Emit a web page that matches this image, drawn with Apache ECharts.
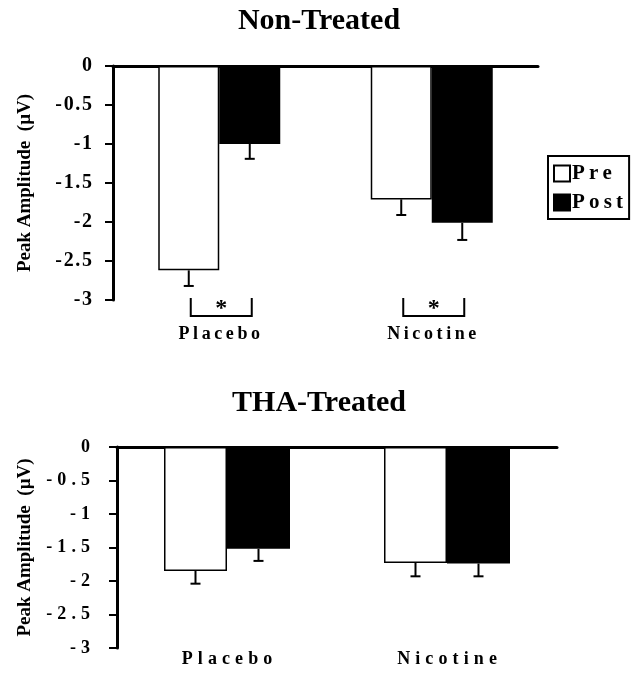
<!DOCTYPE html>
<html>
<head>
<meta charset="utf-8">
<script src="https://cdn.jsdelivr.net/npm/echarts@6/dist/echarts.min.js"></script>
<style>html,body{margin:0;padding:0;background:#fff}#c{width:638px;height:675px}</style>
</head>
<body>
<div id="c"></div>
<script>
// ---- data ----
const categories = ['Placebo', 'Nicotine'];
const seriesNames = ['Pre', 'Post'];
const titles = ['Non-Treated', 'THA-Treated'];
const yTicks = [0, -0.5, -1, -1.5, -2, -2.5, -3];
// Non-Treated
const ntPre = [-2.62, -1.71];
const ntPost = [-1.00, -2.01];
const ntPreErr = [0.20, 0.20];
const ntPostErr = [0.19, 0.22];
const ntSignificant = [1, 1];
// THA-Treated
const thaPre = [-1.85, -1.73];
const thaPost = [-1.52, -1.74];
const thaPreErr = [0.19, 0.20];
const thaPostErr = [0.18, 0.19];

const FONT = '"Liberation Serif", "DejaVu Serif", serif';
const spaced = (s, sep) => String(s).split('').join(sep);
const chart = echarts.init(document.getElementById('c'));

const grids = [
  {left: 113, top: 66, width: 425, height: 234, barW: 61, sep: '\u2009', tickSep: '\u200a', tickSize: 20, labelMargin: 25, yMargin: 21, nameGap: 78},
  {left: 117, top: 447, width: 440, height: 201, barW: 63, sep: '\u2009\u200a', tickSep: '\u2009\u200a', tickSize: 18, labelMargin: 2, yMargin: 27, nameGap: 82}
];

function errSeries(gi, values, errs, sign, name) {
  const bw = grids[gi].barW;
  return {
    type: 'custom', name: name + '_err', xAxisIndex: gi * 2, yAxisIndex: gi, z: 5,
    silent: true, clip: false,
    data: values.map((v, i) => [i, v, v - errs[i]]),
    renderItem: function (params, api) {
      const a = api.coord([api.value(0), api.value(1)]);
      const b = api.coord([api.value(0), api.value(2)]);
      const x = a[0] + sign * bw / 2;
      return {
        type: 'group', children: [
          {type: 'line', shape: {x1: x, y1: a[1], x2: x, y2: b[1]}, style: {stroke: '#000', lineWidth: 2}},
          {type: 'line', shape: {x1: x - 5, y1: b[1], x2: x + 5, y2: b[1]}, style: {stroke: '#000', lineWidth: 2}}
        ]
      };
    }
  };
}

function barSeries(gi, name, values, color) {
  return {
    type: 'bar', name: name, xAxisIndex: gi * 2, yAxisIndex: gi,
    data: values, barWidth: grids[gi].barW, barGap: '0%',
    itemStyle: {color: color, borderColor: '#000', borderWidth: 1.5},
    emphasis: {disabled: true}
  };
}

const bracketSeries = {
  type: 'custom', xAxisIndex: 0, yAxisIndex: 0, silent: true, clip: false, z: 5,
  data: ntSignificant.map((s, i) => [i, s]).filter(d => d[1]),
  renderItem: function (params, api) {
    const bw = grids[0].barW;
    const base = api.coord([api.value(0), -3]);
    const x1 = base[0] - bw / 2 + 2, x2 = base[0] + bw / 2 + 2;
    const yT = base[1] - 2, yB = base[1] + 16;
    return {
      type: 'group', children: [
        {type: 'polyline', shape: {points: [[x1, yT], [x1, yB], [x2, yB], [x2, yT]]}, style: {stroke: '#000', lineWidth: 2, fill: null}},
        {type: 'text', style: {text: '*', x: (x1 + x2) / 2, y: base[1] + 9, align: 'center', verticalAlign: 'middle', font: 'bold 24px ' + FONT, fill: '#000'}}
      ]
    };
  }
};

const xAxes = [], yAxes = [];
grids.forEach((g, gi) => {
  xAxes.push({
    type: 'category', gridIndex: gi, data: categories, position: 'top',
    axisLine: {lineStyle: {color: '#000', width: 3}},
    axisTick: {inside: true, length: 7, lineStyle: {color: '#000', width: 2}},
    axisLabel: {show: false}, splitLine: {show: false}
  });
  xAxes.push({
    type: 'category', gridIndex: gi, data: categories, position: 'bottom',
    axisLine: {show: false}, axisTick: {show: false},
    axisLabel: {margin: g.labelMargin, fontFamily: FONT, fontWeight: 'bold', fontSize: 18, color: '#000',
      formatter: v => spaced(v, g.sep)}
  });
  yAxes.push({
    type: 'value', gridIndex: gi, min: -3, max: 0, interval: 0.5,
    name: 'Peak Amplitude  (\u00b5V)', nameLocation: 'middle', nameGap: g.nameGap, nameRotate: 90,
    nameTextStyle: {fontFamily: FONT, fontWeight: 'bold', fontSize: 19, color: '#000'},
    axisLine: {show: true, lineStyle: {color: '#000', width: 3}},
    axisTick: {show: true, length: 8, lineStyle: {color: '#000', width: 2}},
    splitLine: {show: false},
    axisLabel: {margin: g.yMargin, fontFamily: FONT, fontWeight: 'bold', fontSize: g.tickSize, color: '#000',
      formatter: v => yTicks.includes(v) ? spaced(String(v), g.tickSep) : ''}
  });
});

chart.setOption({
  animation: false,
  backgroundColor: '#fff',
  title: [
    {text: titles[0], left: 'center', top: 1, textStyle: {fontFamily: FONT, fontWeight: 'bold', fontSize: 30, color: '#000'}},
    {text: titles[1], left: 'center', top: 383, textStyle: {fontFamily: FONT, fontWeight: 'bold', fontSize: 30, color: '#000'}}
  ],
  legend: {
    orient: 'vertical', left: 548, top: 156, data: seriesNames,
    borderColor: '#000', borderWidth: 2, padding: [7, 6, 6, 5], itemGap: 8,
    itemWidth: 16, itemHeight: 16, icon: 'rect', selectedMode: false,
    textStyle: {fontFamily: FONT, fontWeight: 'bold', fontSize: 21, color: '#000', padding: [0, 0, 0, -3]},
    formatter: n => spaced(n, '\u2009')
  },
  grid: grids.map(g => ({left: g.left, top: g.top, width: g.width, height: g.height})),
  xAxis: xAxes,
  yAxis: yAxes,
  series: [
    barSeries(0, seriesNames[0], ntPre, '#fff'),
    barSeries(0, seriesNames[1], ntPost, '#000'),
    errSeries(0, ntPre, ntPreErr, -1, 'Pre'),
    errSeries(0, ntPost, ntPostErr, 1, 'Post'),
    bracketSeries,
    barSeries(1, seriesNames[0], thaPre, '#fff'),
    barSeries(1, seriesNames[1], thaPost, '#000'),
    errSeries(1, thaPre, thaPreErr, -1, 'Pre'),
    errSeries(1, thaPost, thaPostErr, 1, 'Post')
  ]
});
</script>
</body>
</html>
